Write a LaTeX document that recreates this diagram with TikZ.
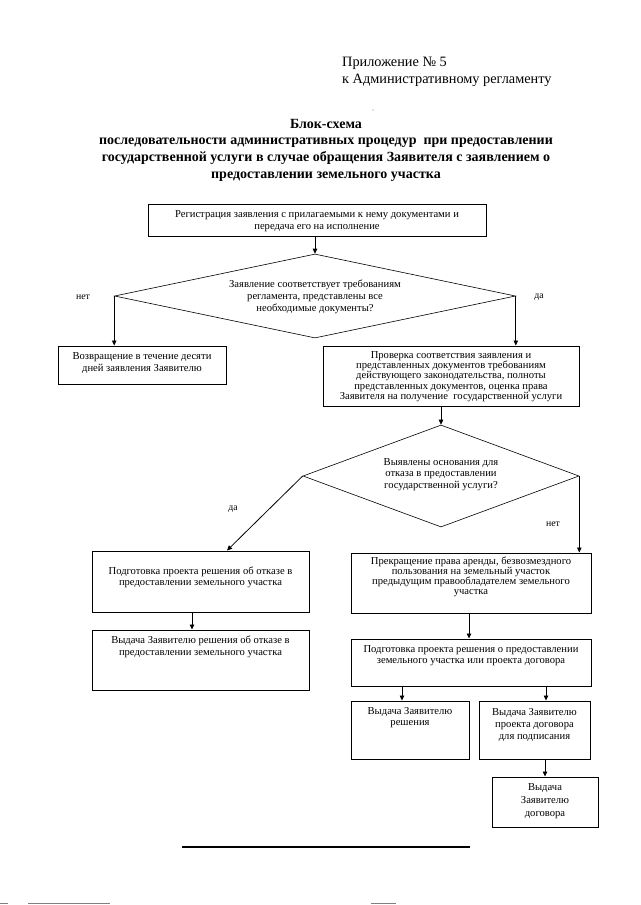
\documentclass[tikz,border=0pt]{standalone}
\usepackage{fontspec}
\setmainfont{Liberation Serif}
\usetikzlibrary{arrows.meta,shapes.geometric,calc}
\begin{document}
\begin{tikzpicture}[x=1pt,y=-1pt,
  box/.style={draw, line width=1pt, inner sep=0pt},
  dia/.style={draw, shape=diamond, line width=0.6pt, inner sep=0pt},
  arr/.style={-{Triangle[length=5pt,width=4.5pt]}, line width=0.8pt},
  txt/.style={align=center, inner sep=0pt},
  lab/.style={font=\fontsize{9.8}{11}\selectfont, inner sep=0pt}]
\fill[white] (0,0) rectangle (640,905);
\useasboundingbox (0,0) rectangle (640,905);

% header
\node[anchor=west, align=left, inner sep=0pt, font=\fontsize{14.3}{17}\selectfont] (hdr) at (342,71.5)
  {Приложение № 5\\к Административному регламенту};
\fill[gray] (373,110) circle (0.6pt);
\node[txt, font=\bfseries\fontsize{14}{16.7}\selectfont] (title) at (326,150)
  {Блок-схема\\последовательности административных процедур\ \ при предоставлении\\государственной услуги в случае обращения Заявителя с заявлением о\\предоставлении земельного участка};

% boxes
\node[box, minimum width=338pt, minimum height=32pt] (box1) at (317,220) {};
\node[txt, font=\fontsize{10.6}{12}\selectfont] at (317,221)
  {Регистрация заявления с прилагаемыми к нему документами и\\передача его на исполнение};

\node[dia, minimum width=401pt, minimum height=84pt] (d1) at (315,296) {};
\node[txt, font=\fontsize{10.6}{12}\selectfont] at (315,297)
  {Заявление соответствует требованиям\\регламента, представлены все\\необходимые документы?};

\node[box, minimum width=168pt, minimum height=38pt] (vozv) at (142,365) {};
\node[txt, font=\fontsize{10.6}{12}\selectfont] at (142,363)
  {Возвращение в течение десяти\\дней заявления Заявителю};

\node[box, minimum width=256pt, minimum height=60pt] (prov) at (451,376) {};
\node[txt, font=\fontsize{10.6}{10.3}\selectfont] at (451,376.5)
  {Проверка соответствия заявления и\\представленных документов требованиям\\действующего законодательства, полноты\\представленных документов, оценка права\\Заявителя на получение\ \ государственной услуги};

\node[dia, minimum width=276pt, minimum height=102pt] (d2) at (441,476) {};
\node[txt, font=\fontsize{10.6}{11.5}\selectfont] at (441,474.5)
  {Выявлены основания для\\отказа в предоставлении\\государственной услуги?};

\node[box, minimum width=217pt, minimum height=61pt] (otk1) at (200.5,581.5) {};
\node[txt, font=\fontsize{10.6}{11.5}\selectfont] at (200.5,577.5)
  {Подготовка проекта решения об отказе в\\предоставлении земельного участка};

\node[box, minimum width=217pt, minimum height=60pt] (otk2) at (200.5,660) {};
\node[txt, font=\fontsize{10.6}{12}\selectfont] at (200.5,647)
  {Выдача Заявителю решения об отказе в\\предоставлении земельного участка};

\node[box, minimum width=240pt, minimum height=60pt] (prek) at (471,583) {};
\node[txt, font=\fontsize{10.6}{10}\selectfont] at (471,577)
  {Прекращение права аренды, безвозмездного\\пользования на земельный участок\\предыдущим правообладателем земельного\\участка};

\node[box, minimum width=240pt, minimum height=47pt] (proj) at (471,662.5) {};
\node[txt, font=\fontsize{10.6}{11}\selectfont] at (471,655.5)
  {Подготовка проекта решения о предоставлении\\земельного участка или проекта договора};

\node[box, minimum width=118pt, minimum height=58pt] (vres) at (410,730) {};
\node[txt, font=\fontsize{10.6}{11}\selectfont] at (410,717.5)
  {Выдача Заявителю\\решения};

\node[box, minimum width=111pt, minimum height=58pt] (vproj) at (534.5,730) {};
\node[txt, font=\fontsize{10.6}{12}\selectfont] at (534.5,725)
  {Выдача Заявителю\\проекта договора\\для подписания};

\node[box, minimum width=106pt, minimum height=50pt] (vdog) at (545,802) {};
\node[txt, font=\fontsize{10.6}{13}\selectfont] at (545,801)
  {Выдача\\Заявителю\\договора};

% labels
\node[lab] (l1) at (83,297) {нет};
\node[lab] (l2) at (539,297) {да};
\node[lab] (l3) at (233,509) {да};
\node[lab] (l4) at (553,524) {нет};

% helper coordinates
\coordinate (x227) at (227,0);
\coordinate (x192) at (192,0);
\coordinate (x469) at (469,0);
\coordinate (x402) at (402,0);
\coordinate (x546) at (546,0);

% connectors
\draw[arr] (box1.south -| d1.north) -- (d1.north);
\draw[arr] (d1.west) -- (d1.west |- vozv.north);
\draw[arr] (d1.east) -- (d1.east |- prov.north);
\draw[arr] (prov.south -| d2.north) -- (d2.north);
\draw[arr] (d2.west) -- (otk1.north -| x227);
\draw[arr] (d2.east) -- (d2.east |- prek.north);
\draw[arr] (otk1.south -| x192) -- (otk2.north -| x192);
\draw[arr] (prek.south -| x469) -- (proj.north -| x469);
\draw[arr] (proj.south -| x402) -- (vres.north -| x402);
\draw[arr] (proj.south -| x546) -- (vproj.north -| x546);
\draw[arr] (vproj.south -| vdog.north) -- (vdog.north);

% bottom rule and scan marks
\coordinate (r1) at (182,847);
\coordinate (r2) at (470,847);
\draw[line width=1.2pt] (r1) -- (r2);
\draw[gray, line width=1pt] (0,903.5) -- (8,903.5) (28,903.5) -- (110,903.5) (371,903.5) -- (396,903.5);
\end{tikzpicture}
\end{document}
